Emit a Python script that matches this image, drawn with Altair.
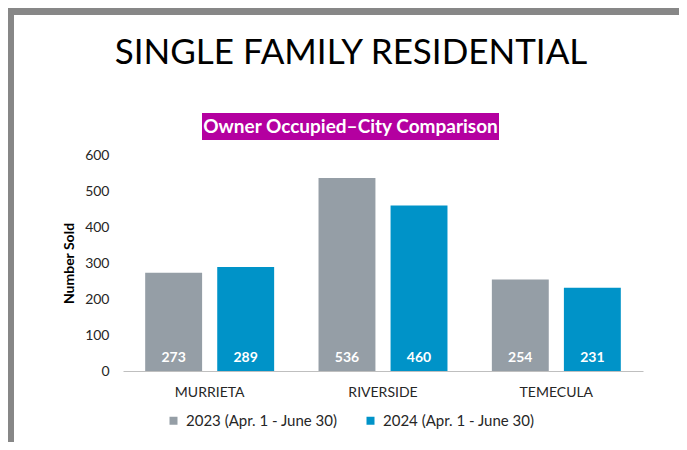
import altair as alt
import pandas as pd

cities = ["MURRIETA", "RIVERSIDE", "TEMECULA"]
years = ["2023 (Apr. 1 - June 30)", "2024 (Apr. 1 - June 30)"]
sold_2023 = [273, 536, 254]
sold_2024 = [289, 460, 231]
y_ticks = [0, 100, 200, 300, 400, 500, 600]
colors = ["#959EA6", "#0093C8"]

rows = []
for c, a, b in zip(cities, sold_2023, sold_2024):
    rows.append({"city": c, "period": years[0], "sold": a, "zero": 0})
    rows.append({"city": c, "period": years[1], "sold": b, "zero": 0})
df = pd.DataFrame(rows)

FONT = "Lato"
W, H = 520, 216

x_scale = alt.Scale(paddingInner=0.256, paddingOuter=0.128)
x_axis = alt.Axis(labelAngle=0, labelFontSize=14, labelColor="#262626",
                  labelFont=FONT, labelPadding=14, ticks=False,
                  domainColor="#BFBFBF", domainWidth=1)
xo_scale = alt.Scale(paddingInner=0.21, paddingOuter=0)
y_scale = alt.Scale(domain=[0, 600], nice=False)
y_axis = alt.Axis(values=y_ticks, grid=False, domain=False, ticks=False,
                  labelFontSize=14, labelOverlap=False,
                  labelColor="#262626", labelFont=FONT, labelPadding=14,
                  titleFont=FONT, titleFontSize=14, titleFontWeight="bold",
                  titleColor="#000000", titlePadding=8)

bars = alt.Chart(df).mark_bar().encode(
    x=alt.X("city:N", sort=cities, title=None, scale=x_scale, axis=x_axis),
    xOffset=alt.XOffset("period:N", sort=years, scale=xo_scale),
    y=alt.Y("sold:Q", title="Number Sold", scale=y_scale, axis=y_axis),
    color=alt.Color("period:N", sort=years,
                    scale=alt.Scale(domain=years, range=colors),
                    legend=alt.Legend(title=None, orient="none", direction="horizontal",
                                      legendX=43, legendY=258, symbolType="square",
                                      symbolSize=64, symbolStrokeWidth=0,
                                      labelFontSize=15, labelFont=FONT,
                                      labelColor="#262626", labelOffset=5,
                                      columnPadding=25)),
)

labels = alt.Chart(df).mark_text(
    color="white", font=FONT, fontSize=14, fontWeight="bold",
    baseline="bottom", dy=-6
).encode(
    x=alt.X("city:N", sort=cities, title=None, scale=x_scale, axis=x_axis),
    xOffset=alt.XOffset("period:N", sort=years, scale=xo_scale),
    y=alt.Y("zero:Q", title="Number Sold", scale=y_scale, axis=y_axis),
    text="sold:Q",
)

one = pd.DataFrame({"k": [0]})

border_top = alt.Chart(one).mark_rect(color="#878787").encode(
    x=alt.value(-115), x2=alt.value(556), y=alt.value(-148), y2=alt.value(-140))
border_left = alt.Chart(one).mark_rect(color="#878787").encode(
    x=alt.value(-115), x2=alt.value(-109), y=alt.value(-148), y2=alt.value(290))

title = alt.Chart(one).mark_text(
    text="SINGLE FAMILY RESIDENTIAL", font=FONT, fontSize=35, color="#000000",
    align="center", baseline="alphabetic"
).encode(x=alt.value(228), y=alt.value(-91))

sub_box = alt.Chart(one).mark_rect(color="#B400A0").encode(
    x=alt.value(79), x2=alt.value(376), y=alt.value(-42), y2=alt.value(-15))
sub_text = alt.Chart(one).mark_text(
    text="Owner Occupied\u2013City Comparison", font=FONT, fontSize=19,
    fontWeight="bold", color="white", align="center", baseline="middle"
).encode(x=alt.value(227.5), y=alt.value(-28))

chart = alt.layer(
    border_top, border_left, title, sub_box, sub_text, bars, labels
).properties(
    width=W, height=H,
    autosize=alt.AutoSizeParams(type="none"),
    padding={"left": 115, "top": 147, "right": 36, "bottom": 71},
    background="white",
).configure_view(stroke=None)

chart.save("out.html", embed_options={"renderer": "svg", "actions": False})
